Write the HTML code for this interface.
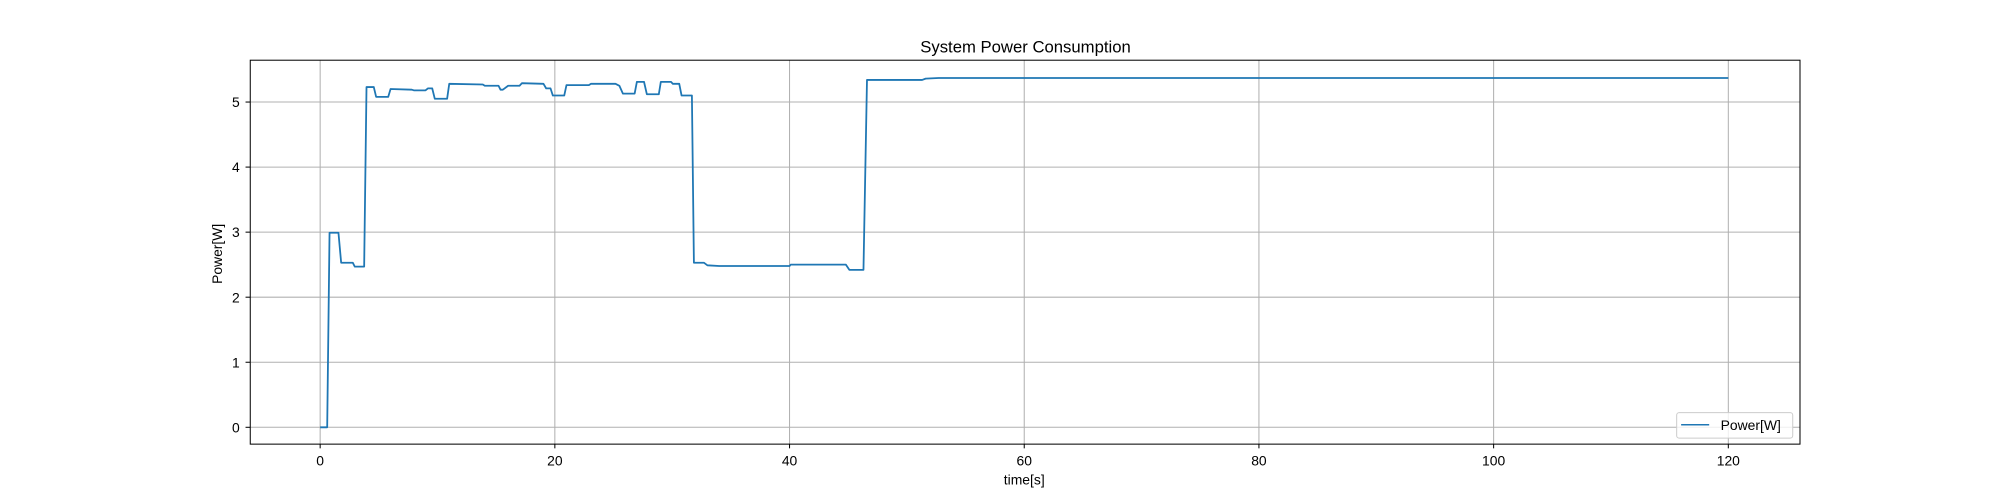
<!DOCTYPE html>
<html><head><meta charset="utf-8"><style>
body{margin:0;background:#fff;}
svg{display:block;font-family:"Liberation Sans","DejaVu Sans",sans-serif;}
</style></head><body>
<svg id="chart" width="2000" height="500" xmlns="http://www.w3.org/2000/svg">
<rect width="2000" height="500" fill="#fff"/>
<g transform="scale(1.27551)">
<g id="grid"></g>
<g id="axes"></g>
<g id="series"></g>
<rect x="196.2" y="47.2" width="1215" height="301" fill="none" stroke="#000" stroke-width="0.8"/>
<text x="804" y="41" font-size="13.1" text-anchor="middle">System Power Consumption</text>
<text x="803" y="380" font-size="10.9" text-anchor="middle">time[s]</text>
<text x="174" y="199" font-size="10.9" text-anchor="middle" transform="rotate(-90 174 199)">Power[W]</text>
<g>
<rect x="1314.5" y="323.5" width="91" height="20" rx="2" fill="#fff" fill-opacity="0.8" stroke="#ccc" stroke-width="0.8"/>
<line x1="1318" y1="333" x2="1340" y2="333" stroke="#1f77b4" stroke-width="1.2"/>
<text x="1349" y="337" font-size="10.9">Power[W]</text>
</g>
</g>
</svg>
<script>
const xTicks=[0,20,40,60,80,100,120];
const yTicks=[0,1,2,3,4,5];
const times=[0,0.6,0.8,1.56,1.79,2.78,2.95,3.75,3.95,4.57,4.77,5.8,6.0,7.81,7.98,8.98,9.18,9.55,9.77,10.82,11.0,13.86,14.03,15.2,15.37,15.57,16.02,16.99,17.2,19.03,19.26,19.63,19.83,20.8,20.99,22.9,23.07,25.17,25.5,25.8,26.8,26.99,27.6,27.84,28.86,29.03,29.9,30.06,30.6,30.8,31.68,31.85,32.7,33.0,34.0,40.0,40.1,44.8,45.1,46.3,46.6,51.3,51.6,52.7,120];
const power=[0,0,2.99,2.99,2.53,2.53,2.47,2.47,5.23,5.23,5.08,5.08,5.20,5.19,5.18,5.18,5.21,5.21,5.05,5.05,5.28,5.27,5.25,5.25,5.19,5.19,5.25,5.25,5.29,5.28,5.21,5.21,5.10,5.10,5.26,5.26,5.28,5.28,5.25,5.13,5.13,5.31,5.31,5.12,5.12,5.31,5.31,5.28,5.28,5.10,5.10,2.53,2.53,2.49,2.48,2.48,2.50,2.50,2.42,2.42,5.34,5.34,5.36,5.37,5.37];
const X=v=>251+v*9.2;
const Y=v=>335-v*51;
const NS="http://www.w3.org/2000/svg";
const grid=document.getElementById('grid'),axes=document.getElementById('axes'),series=document.getElementById('series');
function mk(tag,attrs,parent){const e=document.createElementNS(NS,tag);for(const k in attrs)e.setAttribute(k,attrs[k]);parent.appendChild(e);return e;}
xTicks.forEach(t=>{
 const x=X(t);
 const g=mk('line',{x1:x,x2:x,y1:47,y2:348,stroke:'#b0b0b0','stroke-width':0.8},grid);
 
 
 const tk=mk('line',{x1:x,x2:x,y1:348,y2:351.5,stroke:'#000','stroke-width':0.8},axes);
 
 
 const tx=mk('text',{x:x,y:365,'font-size':10.9,'text-anchor':'middle'},axes);
 tx.textContent=t;
 
 
});
yTicks.forEach(t=>{
 const y=Y(t);
 const g=mk('line',{x1:196,x2:1411,y1:y,y2:y,stroke:'#b0b0b0','stroke-width':0.8},grid);
 
 
 const tk=mk('line',{x1:192.5,x2:196,y1:y,y2:y,stroke:'#000','stroke-width':0.8},axes);
 
 
 const tx=mk('text',{x:188,y:y+4,'font-size':10.9,'text-anchor':'end'},axes);
 tx.textContent=t;
 
 
});
const pts=times.map((t,i)=>X(t)+','+Y(power[i])).join(' ');
const line=mk('polyline',{points:pts,fill:'none',stroke:'#1f77b4','stroke-width':1.4,'stroke-linejoin':'round'},series);


</script>
</body></html>
